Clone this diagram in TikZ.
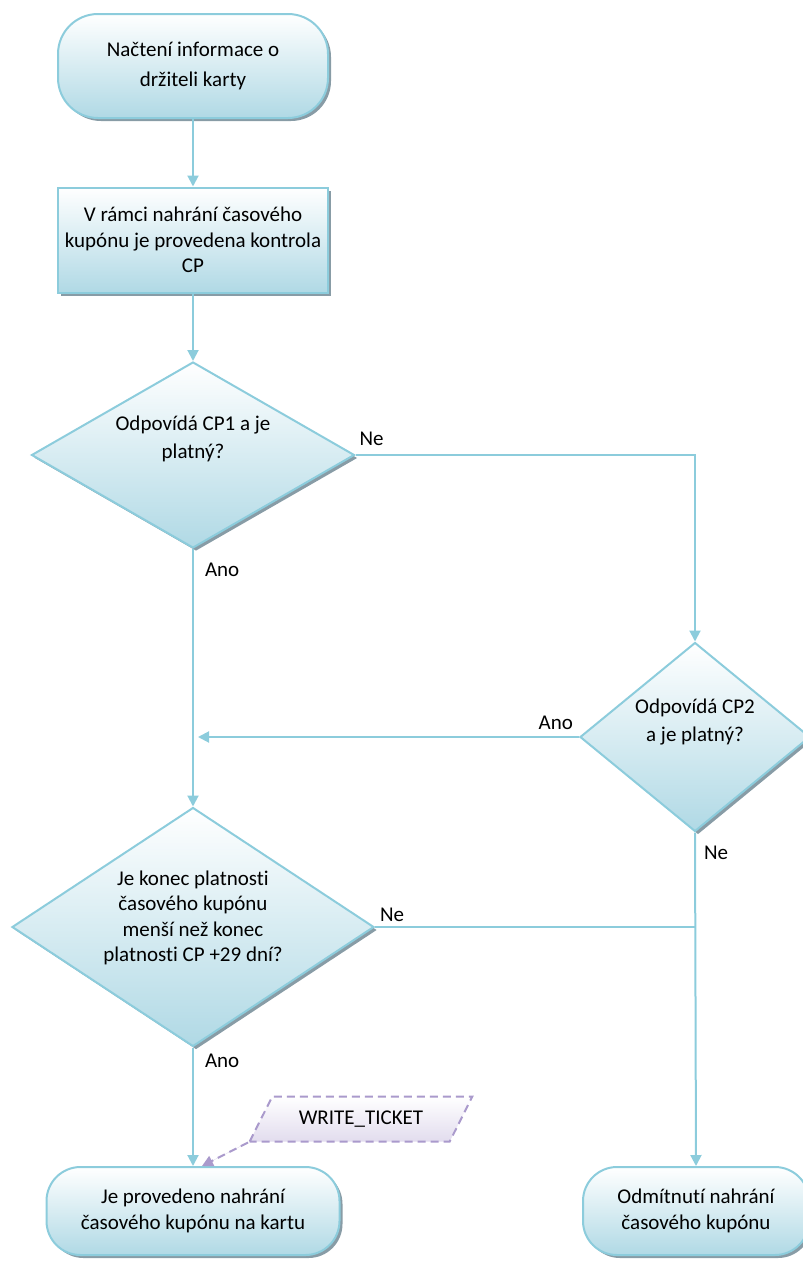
\documentclass[tikz,border=0pt]{standalone}
\usepackage{fontspec}
\setmainfont{Carlito}[Ligatures=CommonOff]
\usetikzlibrary{arrows.meta,shapes.geometric,shadows}
\definecolor{flowline}{RGB}{140,204,220}
\definecolor{flowfill}{RGB}{176,217,229}
\definecolor{flowshadow}{RGB}{136,156,166}
\definecolor{ticketline}{RGB}{170,154,204}
\definecolor{ticketfill}{RGB}{226,220,238}

\begin{document}
\begin{tikzpicture}[x=1pt, y=-1pt, font=\fontsize{21}{25.5}\selectfont,
  > = {Triangle[length=11pt, width=11pt]},
  flow/.style = {draw=flowline, line width=2pt},
  box/.style = {flow, top color=white, bottom color=flowfill, align=center, inner sep=0pt,
                drop shadow={shadow xshift=3pt, shadow yshift=-3pt, fill=flowshadow, opacity=1}},
  terminal/.style = {box, rectangle, rounded corners=#1},
  decision/.style = {box, diamond},
  answer/.style = {inner sep=0pt},
  ticket/.style = {draw=ticketline, line width=2pt, dash pattern=on 8pt off 5pt,
                   top color=white, bottom color=ticketfill, trapezium,
                   trapezium left angle=46, trapezium right angle=134, trapezium stretches=true,
                   minimum width=223pt, minimum height=45pt, inner sep=0pt},
]
	\useasboundingbox (0,0) rectangle (803,1261);

	\node[terminal=40pt, minimum width=270pt, minimum height=104pt] (load) at (193,66) {Načtení informace o\\[5pt]držiteli karty};
	\node[box, rectangle, minimum width=270pt, minimum height=105pt] (check) at (193,240) {V rámci nahrání časového\\kupónu je provedena kontrola\\CP};
	\node[decision, aspect=1.74, minimum width=323pt, minimum height=186pt, text depth=36pt] (cp1) at (193,455) {Odpovídá CP1 a je\\[2pt]platný?};
	\node[decision, aspect=1.22, minimum width=230pt, minimum height=189pt, text depth=34pt] (cp2) at (695,737) {Odpovídá CP2\\[2pt]a je platný?};
	\node[decision, aspect=1.51, minimum width=362pt, minimum height=239pt, text depth=22pt] (valid) at (193,927) {Je konec platnosti\\časového kupónu\\menší než konec\\platnosti CP +29 dní?};
	\node[terminal=34pt, minimum width=293pt, minimum height=88pt] (done) at (193,1211) {Je provedeno nahrání\\[1pt]časového kupónu na kartu};
	\node[terminal=34pt, minimum width=226pt, minimum height=88pt] (reject) at (696,1211) {Odmítnutí nahrání\\[1pt]časového kupónu};
	\node[ticket] (write) at (361,1119) {WRITE\_TICKET};

	\coordinate (join) at (cp1.south |- cp2.west); % Ano from CP2
	\coordinate (merge) at (cp2.south |- valid.east); % Ne from +29 dni

	\draw[flow, ->] (load) -- (check);
	\draw[flow, ->] (check) -- (cp1);
	\draw[flow, ->] (cp1.east) node[answer, anchor=south west, xshift=3pt, yshift=8pt] {Ne} -| (cp2.north);
	\draw[flow, ->] (cp1.south) node[answer, anchor=north west, xshift=11pt, yshift=-13pt] {Ano} -- (valid.north);
	\draw[flow, ->, shorten >=5pt] (cp2.west) node[answer, anchor=south east, xshift=-5pt, yshift=6pt] {Ano} -- (join);
	\draw[flow, ->] (cp2.south) node[answer, anchor=north west, xshift=8pt, yshift=-13pt] {Ne} -- (reject.north);
	\draw[flow] (valid.east) node[answer, anchor=south west, xshift=4pt, yshift=4pt] {Ne} -- (merge);
	\draw[flow, ->] (valid.south) node[answer, anchor=north west, xshift=11pt, yshift=-6pt] {Ano} -- (done.north);

	\draw[draw=ticketline, fill=ticketline, line width=2pt, dash pattern=on 8pt off 5pt, -{Triangle[length=11pt, width=11pt]}]
		(write.bottom left corner) -- ([xshift=9pt]done.north);
\end{tikzpicture}
\end{document}
